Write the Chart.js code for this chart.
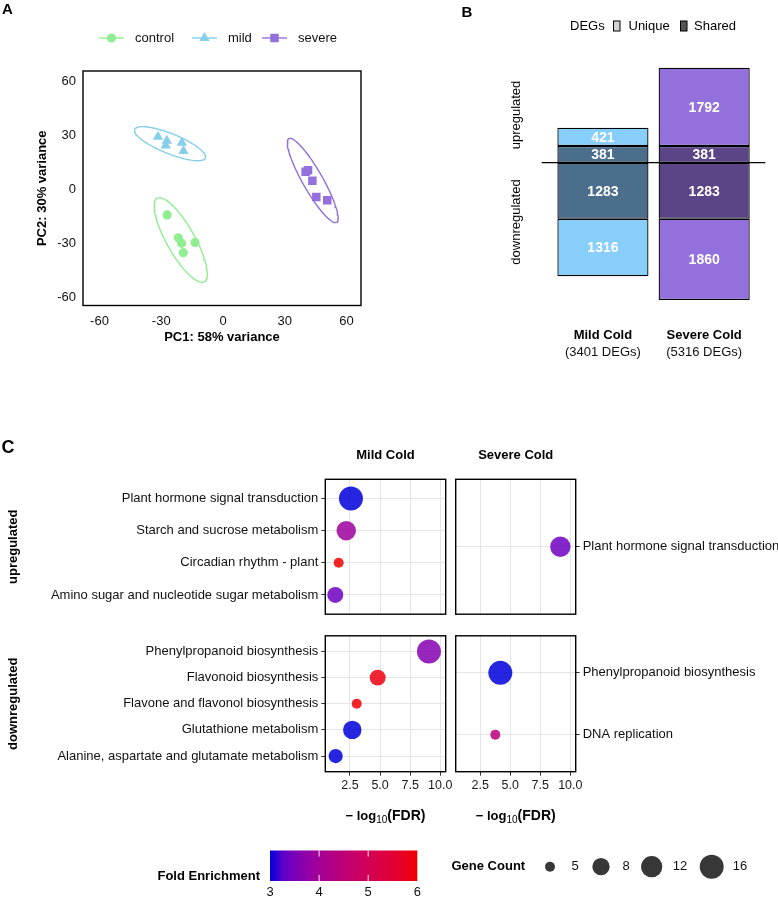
<!DOCTYPE html>
<html lang="en">
<head>
<meta charset="utf-8"/>
<title>Cold stress transcriptome</title>
<script src="https://cdn.jsdelivr.net/npm/chart.js@4.4.0/dist/chart.umd.min.js"></script>
<style>
  body{margin:0;background:#fff;}
  #page{position:relative;width:778px;height:898px;overflow:hidden;background:#fff;}
  #page canvas{position:absolute;}
</style>
</head>
<body>
<div id="page">
  <canvas id="pca" width="440" height="360" style="left:0;top:0"></canvas>
  <canvas id="degs" width="338" height="370" style="left:440px;top:0"></canvas>
  <canvas id="mildUp" width="450" height="185" style="left:0;top:440px"></canvas>
  <canvas id="severeUp" width="328" height="185" style="left:450px;top:440px"></canvas>
  <canvas id="mildDown" width="778" height="273" style="left:0;top:625px"></canvas>
  <canvas id="severeDown" width="328" height="200" style="left:450px;top:625px"></canvas>
</div>
<script>
// ---- panel A: PCA ----
const pcTicks = [-60, -30, 0, 30, 60];
const controlPC1 = [-27.1, -21.7, -20.1, -13.6, -19.3];
const controlPC2 = [-14.1, -26.8, -29.9, -29.5, -35.1];
const mildPC1 = [-31.6, -27.3, -27.8, -20.0, -19.2];
const mildPC2 = [29.4, 27.2, 24.6, 26.1, 21.5];
const severePC1 = [40.1, 41.3, 43.4, 45.3, 50.6];
const severePC2 = [9.9, 10.8, 4.9, -4.1, -5.9];
// 95% ellipses: centre, half major axis, half minor axis (data units)
const groups = ['control', 'mild', 'severe'];
const ellCX = [-20.55, -25.75, 43.55];
const ellCY = [-28.05, 25.55, 5.06];
const ellMajX = [11.46, 17.2, 11.6];
const ellMajY = [-23.26, -7.96, -23.3];
const ellMinX = [5.93, -1.82, 4.22];
const ellMinY = [3.84, -5.16, 2.76];

// ---- panel B: DEG counts ----
const degGroups = ['Mild Cold', 'Severe Cold'];
const degTotals = [3401, 5316];
const upUnique = [421, 1792];
const upShared = [381, 381];
const downShared = [1283, 1283];
const downUnique = [1316, 1860];

// ---- panel C: KEGG enrichment ----
const fdrTicks = [2.5, 5.0, 7.5, 10.0];
const mildUpTerms = ['Plant hormone signal transduction', 'Starch and sucrose metabolism', 'Circadian rhythm - plant', 'Amino sugar and nucleotide sugar metabolism'];
const mildUpFDR = [2.58, 2.19, 1.56, 1.28];
const mildUpFold = [3.0, 3.9, 6.0, 3.4];
const mildUpCount = [16, 10, 5, 7];

const severeUpTerms = ['Plant hormone signal transduction'];
const severeUpFDR = [9.17];
const severeUpFold = [3.4];
const severeUpCount = [11];

const mildDownTerms = ['Phenylpropanoid biosynthesis', 'Flavonoid biosynthesis', 'Flavone and flavonol biosynthesis', 'Glutathione metabolism', 'Alanine, aspartate and glutamate metabolism'];
const mildDownFDR = [9.06, 4.8, 3.06, 2.69, 1.31];
const mildDownFold = [3.6, 5.9, 6.0, 3.0, 3.0];
const mildDownCount = [16, 7, 5, 9, 6];

const severeDownTerms = ['Phenylpropanoid biosynthesis', 'DNA replication'];
const severeDownFDR = [4.17, 3.75];
const severeDownFold = [3.0, 4.4];
const severeDownCount = [16, 5];

const foldTicks = [3, 4, 5, 6];
const countKeys = [5, 8, 12, 16];

const FONT = '"Liberation Sans", Arial, Helvetica, sans-serif';
Chart.defaults.font.family = FONT;
Chart.defaults.color = '#1a1a1a';

function put(ctx, str, x, y, o = {}) {
  ctx.save();
  ctx.font = (o.bold ? 'bold ' : '') + (o.size || 13) + 'px ' + FONT;
  ctx.fillStyle = o.color || '#000';
  ctx.textAlign = o.align || 'left';
  ctx.textBaseline = 'middle';
  ctx.translate(x, y);
  if (o.rot) ctx.rotate(o.rot);
  ctx.fillText(str, 0, 0);
  ctx.restore();
}

function frame(chart) {
  const a = chart.chartArea, ctx = chart.ctx;
  ctx.save();
  ctx.strokeStyle = '#000';
  ctx.lineWidth = 1.4;
  ctx.strokeRect(a.left, a.top, a.right - a.left, a.bottom - a.top);
  ctx.restore();
}

// colour scale blue -> red interpolated in Lab, like ggplot
function lin(c) { c /= 255; return c <= 0.04045 ? c / 12.92 : Math.pow((c + 0.055) / 1.055, 2.4); }
function toLab(rgb) {
  const R = lin(rgb[0]), G = lin(rgb[1]), B = lin(rgb[2]);
  const x = (0.4124 * R + 0.3576 * G + 0.1805 * B) / 0.95047;
  const y = 0.2126 * R + 0.7152 * G + 0.0722 * B;
  const z = (0.0193 * R + 0.1192 * G + 0.9505 * B) / 1.08883;
  const f = t => t > 0.008856 ? Math.cbrt(t) : 7.787 * t + 16 / 116;
  return [116 * f(y) - 16, 500 * (f(x) - f(y)), 200 * (f(y) - f(z))];
}
function fromLab(lab) {
  const fy = (lab[0] + 16) / 116, fx = fy + lab[1] / 500, fz = fy - lab[2] / 200;
  const g = t => t * t * t > 0.008856 ? t * t * t : (t - 16 / 116) / 7.787;
  const x = g(fx) * 0.95047, y = g(fy), z = g(fz) * 1.08883;
  const out = [3.2406 * x - 1.5372 * y - 0.4986 * z, -0.9689 * x + 1.8758 * y + 0.0415 * z, 0.0557 * x - 0.2040 * y + 1.0570 * z];
  return out.map(c => {
    c = c <= 0.0031308 ? 12.92 * c : 1.055 * Math.pow(c, 1 / 2.4) - 0.055;
    return Math.round(Math.max(0, Math.min(1, c)) * 255);
  });
}
const labLow = toLab([0, 0, 255]), labHigh = toLab([255, 0, 0]);
function foldColor(v, alpha) {
  const t = Math.max(0, Math.min(1, (v - 3) / 3));
  const c = fromLab(labLow.map((l, i) => l + (labHigh[i] - l) * t));
  // the printed figure is a touch darker than pure sRGB
  return `rgba(${Math.round(c[0] * 0.94)},${c[1]},${Math.round(c[2] * 0.86)},${alpha})`;
}
// point size from gene count (area scale)
function radiusFor(n) { return 5 + 7 * Math.sqrt(Math.max(0, n - 5) / 11); }

// ================= A =================
const groupColors = ['#90EE90', '#87CEEB', '#9370DB'];
const groupShapes = ['circle', 'triangle', 'rect'];
const groupRadius = [4.6, 6, 6];
const pc1 = [controlPC1, mildPC1, severePC1];
const pc2 = [controlPC2, mildPC2, severePC2];

const pointSets = groups.map((g, k) => ({
  label: g,
  data: pc1[k].map((x, i) => ({x, y: pc2[k][i]})),
  pointStyle: groupShapes[k],
  pointRadius: groupRadius[k],
  backgroundColor: groupColors[k],
  borderColor: groupColors[k],
  borderWidth: 0
}));
const ellipseSets = groups.map((g, k) => {
  const pts = [];
  for (let s = 0; s <= 90; s++) {
    const t = 2 * Math.PI * s / 90;
    pts.push({
      x: ellCX[k] + Math.cos(t) * ellMajX[k] + Math.sin(t) * ellMinX[k],
      y: ellCY[k] + Math.cos(t) * ellMajY[k] + Math.sin(t) * ellMinY[k]
    });
  }
  return {label: g + ' ellipse', data: pts, showLine: true, pointRadius: 0, borderColor: groupColors[k], borderWidth: 1.4, fill: false, tension: 0};
});

const pcaDecor = {
  id: 'pcaDecor',
  afterDraw(chart) {
    const ctx = chart.ctx;
    frame(chart);
    put(ctx, 'A', 2, 10, {bold: true, size: 15});
    // legend: line + marker keys
    const keyX = [99, 192, 262];
    groups.forEach((g, k) => {
      const x0 = keyX[k], y0 = 38;
      ctx.save();
      ctx.strokeStyle = groupColors[k];
      ctx.fillStyle = groupColors[k];
      ctx.lineWidth = 1.4;
      ctx.beginPath(); ctx.moveTo(x0, y0); ctx.lineTo(x0 + 25, y0); ctx.stroke();
      Chart.helpers.drawPoint(ctx, {pointStyle: groupShapes[k], radius: groupRadius[k], borderWidth: 0, rotation: 0},
        x0 + 12.5, y0);
      ctx.restore();
      put(ctx, g, x0 + 36, y0, {size: 13, color: '#111'});
    });
  }
};

new Chart(document.getElementById('pca'), {
  type: 'scatter',
  data: {datasets: [...pointSets, ...ellipseSets]},
  options: {
    responsive: false, animation: false, events: [],
    layout: {autoPadding: false, padding: {top: 71, right: 79, left: 0, bottom: 0}},
    plugins: {legend: {display: false}, tooltip: {enabled: false}},
    scales: {
      x: {
        min: -68, max: 67,
        afterBuildTicks: s => { s.ticks = pcTicks.map(v => ({value: v})); },
        grid: {display: false, drawTicks: false}, border: {display: false},
        ticks: {padding: 8, font: {size: 13}, color: '#111'},
        title: {display: true, text: 'PC1: 58% variance', font: {size: 13, weight: 'bold'}, color: '#000', padding: {top: 0, bottom: 15}},
        afterFit: s => { s.height = 54.5; }
      },
      y: {
        min: -64.5, max: 66,
        afterBuildTicks: s => { s.ticks = pcTicks.map(v => ({value: v})); },
        grid: {display: false, drawTicks: false}, border: {display: false},
        ticks: {padding: 7, font: {size: 13}, color: '#111'},
        title: {display: true, text: 'PC2: 30% variance', font: {size: 13, weight: 'bold'}, color: '#000', padding: {top: 35, bottom: 0}},
        afterFit: s => { s.width = 83; }
      }
    }
  },
  plugins: [pcaDecor]
});

// ================= B =================
const uniqueColors = ['#87CEFA', '#9370DB'];
const sharedColors = ['#4A6E8B', '#5B4586'];
const degSets = [
  {label: 'shared up', data: upShared, backgroundColor: sharedColors},
  {label: 'unique up', data: upUnique, backgroundColor: uniqueColors},
  {label: 'shared down', data: downShared.map(v => -v), backgroundColor: sharedColors},
  {label: 'unique down', data: downUnique.map(v => -v), backgroundColor: uniqueColors}
].map(d => Object.assign(d, {borderColor: '#000', borderWidth: 1.3, borderSkipped: false, barPercentage: 0.9, categoryPercentage: 1}));

const degDecor = {
  id: 'degDecor',
  afterDatasetsDraw(chart) {
    const ctx = chart.ctx, a = chart.chartArea;
    const y0 = chart.scales.y.getPixelForValue(0);
    ctx.save();
    ctx.strokeStyle = '#000'; ctx.lineWidth = 1.3;
    ctx.beginPath(); ctx.moveTo(a.left - 10.6, y0); ctx.lineTo(a.right + 10.5, y0); ctx.stroke();
    ctx.restore();
    chart.data.datasets.forEach((ds, di) => {
      chart.getDatasetMeta(di).data.forEach((el, i) => {
        put(ctx, String(Math.abs(ds.data[i])), el.x, (el.y + el.base) / 2 + 1, {bold: true, size: 14, color: '#fff', align: 'center'});
      });
    });
  },
  afterDraw(chart) {
    const ctx = chart.ctx;
    put(ctx, 'B', 21.5, 12.5, {bold: true, size: 15});
    // legend
    put(ctx, 'DEGs', 130, 26, {size: 13});
    ctx.save();
    ctx.lineWidth = 1; ctx.strokeStyle = '#000';
    ctx.fillStyle = '#d4d4d4'; ctx.fillRect(173.5, 21, 6.5, 10); ctx.strokeRect(173.5, 21, 6.5, 10);
    ctx.fillStyle = '#555'; ctx.fillRect(240.5, 21, 6.5, 10); ctx.strokeRect(240.5, 21, 6.5, 10);
    ctx.restore();
    put(ctx, 'Unique', 188.5, 26, {size: 13});
    put(ctx, 'Shared', 254, 26, {size: 13});
    // row labels
    put(ctx, 'upregulated', 76, 115, {size: 13, rot: -Math.PI / 2, align: 'center'});
    put(ctx, 'downregulated', 76, 222, {size: 13, rot: -Math.PI / 2, align: 'center'});
    // group labels under bars
    chart.getDatasetMeta(0).data.forEach((el, i) => {
      put(ctx, degGroups[i], el.x, 335, {bold: true, size: 13, align: 'center'});
      put(ctx, '(' + degTotals[i] + ' DEGs)', el.x, 352, {size: 13, align: 'center', color: '#111'});
    });
  }
};

new Chart(document.getElementById('degs'), {
  type: 'bar',
  data: {labels: degGroups, datasets: degSets},
  options: {
    responsive: false, animation: false, events: [],
    layout: {autoPadding: false, padding: {left: 112.3, right: 23.2, top: 50, bottom: 50}},
    plugins: {legend: {display: false}, tooltip: {enabled: false}},
    scales: {
      x: {stacked: true, display: false},
      y: {stacked: true, display: false, min: -3600, max: 2579}
    }
  },
  plugins: [degDecor]
});

// ================= C =================
function logTitle(ctx, cx, cy) {
  const parts = [['\u2212 ', 'bold 13px', 0], ['log', 'bold 13px', 0], ['10', '10px', 4], ['(FDR)', 'bold 14px', 0]];
  ctx.save();
  let w = 0;
  parts.forEach(p => { ctx.font = p[1] + ' ' + FONT; w += ctx.measureText(p[0]).width; });
  let x = cx - w / 2;
  ctx.fillStyle = '#000'; ctx.textBaseline = 'middle'; ctx.textAlign = 'left';
  parts.forEach(p => { ctx.font = p[1] + ' ' + FONT; ctx.fillText(p[0], x, cy + p[2]); x += ctx.measureText(p[0]).width; });
  ctx.restore();
}

function bubblePanel(id, terms, fdr, fold, count, cfg) {
  const n = terms.length;
  const pts = terms.map((t, i) => ({x: fdr[i], y: n - i, r: radiusFor(count[i])}));
  const cols = fold.map(v => foldColor(v, 0.85));
  return new Chart(document.getElementById(id), {
    type: 'bubble',
    data: {datasets: [{label: id, data: pts, backgroundColor: cols, borderColor: cols, borderWidth: 0}]},
    options: {
      responsive: false, animation: false, events: [],
      layout: {autoPadding: false, padding: cfg.pad},
      plugins: {legend: {display: false}, tooltip: {enabled: false}},
      scales: {
        x: {
          type: 'linear', min: 0.45, max: 10.45,
          afterBuildTicks: s => { s.ticks = fdrTicks.map(v => ({value: v})); },
          grid: {color: '#e5e5e5', lineWidth: 1, drawTicks: cfg.showX, tickLength: 4, tickColor: '#333'},
          border: {display: false},
          ticks: {display: cfg.showX, padding: 2, font: {size: 12.5}, color: '#1a1a1a', callback: v => v.toFixed(1)},
          afterFit: s => { s.height = cfg.xh; }
        },
        y: {
          type: 'linear', position: cfg.side, min: 0.4, max: n + 0.6,
          afterBuildTicks: s => { s.ticks = terms.map((t, i) => ({value: n - i})); },
          grid: {color: '#e5e5e5', lineWidth: 1, tickLength: 4, tickColor: '#333'},
          border: {display: false},
          ticks: {padding: 3, font: {size: 13}, color: '#111', callback: v => terms[n - v]},
          afterFit: s => { s.width = cfg.yw; }
        }
      }
    },
    plugins: [{id: id + 'Decor', afterDraw(chart) { frame(chart); cfg.decor(chart, chart.ctx, chart.chartArea); }}]
  });
}

bubblePanel('mildUp', mildUpTerms, mildUpFDR, mildUpFold, mildUpCount, {
  pad: {top: 39.3, right: 4.3, left: 0, bottom: 0}, yw: 325.3, xh: 6.3, side: 'left', showX: false,
  decor(chart, ctx, a) {
    put(ctx, 'C', 1.5, 8.5, {bold: true, size: 18});
    put(ctx, 'Mild Cold', (a.left + a.right) / 2, 15, {bold: true, size: 13, align: 'center'});
    put(ctx, 'upregulated', 13, (a.top + a.bottom) / 2, {bold: true, size: 13, rot: -Math.PI / 2, align: 'center'});
  }
});

bubblePanel('severeUp', severeUpTerms, severeUpFDR, severeUpFold, severeUpCount, {
  pad: {top: 39.3, right: 0, left: 5.7, bottom: 0}, yw: 202.3, xh: 6.3, side: 'right', showX: false,
  decor(chart, ctx, a) {
    put(ctx, 'Severe Cold', (a.left + a.right) / 2, 15, {bold: true, size: 13, align: 'center'});
  }
});

bubblePanel('mildDown', mildDownTerms, mildDownFDR, mildDownFold, mildDownCount, {
  pad: {top: 7.3, right: 332.3, left: 0, bottom: 0}, yw: 325.3, xh: 126.3, side: 'left', showX: true,
  decor(chart, ctx, a) {
    put(ctx, 'downregulated', 13, (a.top + a.bottom) / 2, {bold: true, size: 13, rot: -Math.PI / 2, align: 'center'});
    logTitle(ctx, (a.left + a.right) / 2, 191);
    // colour bar legend
    const bx = 270, bw = 147.3, by = 225.5, bh = 30.5;
    const grad = ctx.createLinearGradient(bx, 0, bx + bw, 0);
    for (let s = 0; s <= 12; s++) grad.addColorStop(s / 12, foldColor(3 + 3 * s / 12, 1));
    ctx.save();
    ctx.fillStyle = grad; ctx.fillRect(bx, by, bw, bh);
    ctx.strokeStyle = 'rgba(255,255,255,0.9)'; ctx.lineWidth = 1;
    foldTicks.forEach(v => {
      const x = bx + (v - 3) / 3 * bw;
      if (v > 3 && v < 6) {
        ctx.beginPath();
        ctx.moveTo(x, by); ctx.lineTo(x, by + bh / 5);
        ctx.moveTo(x, by + bh); ctx.lineTo(x, by + bh * 4 / 5);
        ctx.stroke();
      }
      put(ctx, String(v), x, by + bh + 11, {size: 13, align: 'center', color: '#111'});
    });
    ctx.restore();
    put(ctx, 'Fold Enrichment', 260, 251.5, {bold: true, size: 13, align: 'right'});
    // gene count legend
    put(ctx, 'Gene Count', 451.5, 241.7, {bold: true, size: 13});
    const keyX = [550, 601, 651.7, 711.7];
    const labX = [575, 626, 680, 740];
    countKeys.forEach((c, i) => {
      ctx.save();
      ctx.fillStyle = 'rgba(20,20,20,0.85)';
      ctx.beginPath(); ctx.arc(keyX[i], 241.7, radiusFor(c), 0, 2 * Math.PI); ctx.fill();
      ctx.restore();
      put(ctx, String(c), labX[i], 241.7, {size: 13, align: 'center', color: '#111'});
    });
  }
});

bubblePanel('severeDown', severeDownTerms, severeDownFDR, severeDownFold, severeDownCount, {
  pad: {top: 7.3, right: 0, left: 5.7, bottom: 0}, yw: 202.3, xh: 53.3, side: 'right', showX: true,
  decor(chart, ctx, a) {
    logTitle(ctx, (a.left + a.right) / 2, 191);
  }
});
</script>
</body>
</html>
